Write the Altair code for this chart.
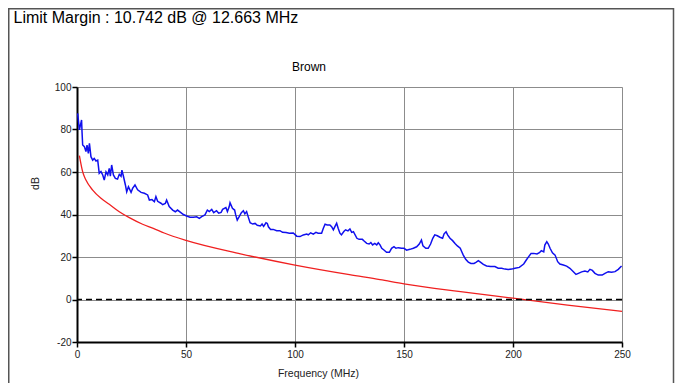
import altair as alt
import pandas as pd

# ---- data ----
blue_freq = [0.3, 1.1, 2.1, 2.3, 2.6, 3.4, 4.1, 4.6, 5.2, 5.7, 6.4, 7.2, 7.9, 8.7, 9.5,
             10.2, 11.0, 11.8, 12.5, 13.3, 14.1, 14.8, 15.3, 15.9, 16.7, 17.6, 18.6, 19.4,
             20.2, 20.6, 21.3, 22.2, 22.8, 23.6, 24.8, 25.5, 26.6, 27.8, 29.4, 30.9, 32.4,
             33.2, 34.4, 35.5, 36.2, 37.0, 38.5, 39.3, 40.5, 41.1, 42.3, 43.9, 45.1, 46.1,
             47.5, 48.8, 50.3, 51.8, 53.4, 54.9, 56.1, 57.2, 58.7, 59.8, 60.7, 61.8, 62.7,
             64.0, 65.0, 66.1, 66.8, 68.3, 69.0, 69.8, 70.2, 71.3, 72.3, 72.8, 73.5, 74.4,
             75.4, 76.3, 77.0, 77.8, 78.5, 79.4, 80.6, 81.7, 82.7, 84.1, 84.9, 85.6, 86.7,
             87.3, 87.8, 88.8, 90.0, 91.6, 93.1, 94.3, 95.9, 97.4, 99.2, 100.8, 102.3,
             103.8, 105.4, 106.1, 107.2, 108.4, 109.6, 110.6, 112.2, 113.0, 113.8, 114.8,
             116.0, 116.8, 117.6, 118.3, 119.1, 119.8, 120.6, 121.3, 122.4, 123.2, 124.3,
             125.2, 126.0, 126.8, 128.4, 129.4, 130.9, 131.7, 132.9, 134.0, 134.8, 135.6,
             136.6, 137.5, 138.2, 139.0, 139.8, 140.8, 142.0, 143.3, 144.3, 145.4, 146.3,
             147.4, 148.9, 150.0, 151.2, 152.7, 154.3, 155.8, 157.0, 158.0, 158.7, 160.0,
             161.1, 162.2, 163.2, 164.1, 165.3, 166.5, 167.7, 168.4, 169.3, 170.0, 171.1,
             172.3, 173.4, 174.5, 175.8, 176.5, 177.2, 178.3, 179.5, 180.7, 182.1, 183.0,
             184.1, 185.2, 186.4, 187.9, 189.7, 191.7, 193.2, 194.8, 196.3, 197.8, 199.4,
             200.9, 202.9, 204.9, 206.1, 207.2, 208.3, 209.5, 211.0, 212.1, 213.0, 214.1,
             214.6, 215.5, 216.2, 217.0, 218.1, 219.3, 220.5, 221.5, 223.1, 224.6, 226.1,
             227.7, 228.9, 230.0, 231.5, 233.0, 234.3, 235.3, 236.4, 237.6, 239.1, 240.9,
             242.2, 243.7, 245.2, 246.8, 248.3, 249.8]
blue_db = [87.6, 79.8, 84.5, 79.0, 72.7, 71.9, 69.6, 72.7, 68.8, 73.5, 67.2, 65.6, 66.4, 65.2, 65.6,
           59.4, 60.2, 58.6, 56.2, 60.1, 58.6, 61.7, 58.0, 63.3, 58.6, 57.0, 56.7, 58.9,
           58.0, 60.9, 58.0, 53.9, 50.7, 53.1, 50.4, 52.3, 53.9, 51.6, 50.4, 50.0, 49.2,
           46.8, 47.0, 46.0, 48.4, 46.2, 45.3, 44.6, 45.2, 46.8, 43.7, 42.1, 41.3, 42.1,
           41.0, 40.0, 39.3, 38.7, 38.7, 38.9, 38.2, 39.0, 39.8, 42.1, 41.4, 42.4, 40.9,
           41.8, 40.6, 41.0, 42.4, 43.3, 41.4, 43.6, 45.5, 42.9, 42.1, 39.8, 37.4, 39.0,
           40.9, 41.8, 40.3, 41.4, 39.0, 36.1, 35.5, 35.8, 34.9, 34.6, 35.5, 34.4, 36.1,
           35.8, 34.2, 33.0, 33.0, 32.4, 32.4, 31.6, 31.5, 31.2, 31.3, 29.8, 29.6,
           30.4, 30.8, 30.4, 31.4, 30.8, 31.6, 31.2, 31.2, 33.5, 35.4, 35.1,
           35.1, 34.3, 32.8, 34.3, 35.9, 33.5, 31.2, 30.4, 32.0, 32.8, 32.3,
           33.2, 31.6, 31.9, 28.8, 28.3, 28.3, 27.5, 26.4, 26.1, 26.8, 25.7,
           26.4, 25.7, 26.7, 25.7, 24.1, 23.3, 22.2, 22.2, 24.1, 24.9, 24.1,
           24.4, 24.1, 24.1, 23.2, 23.6, 24.1, 24.8, 26.1, 28.0, 25.2, 24.1,
           24.1, 26.1, 28.8, 30.4, 30.0, 29.3, 28.8, 30.9, 31.9, 30.4, 28.8,
           27.7, 26.4, 25.2, 24.1, 22.5, 20.9, 18.9, 17.6, 17.0, 17.0, 17.5,
           18.3, 17.5, 16.5, 15.8, 15.5, 15.5, 14.7, 14.7, 14.3, 14.1, 14.3,
           14.7, 15.1, 16.7, 18.6, 20.2, 21.7, 21.7, 21.4, 22.0, 23.0, 22.4,
           25.6, 27.2, 26.1, 24.1, 22.0, 20.9, 17.8, 16.7, 16.2, 15.7, 14.7,
           13.1, 11.8, 12.3, 13.0, 13.4, 13.0, 14.2, 13.7, 12.3, 11.5, 11.5,
           12.3, 13.1, 12.8, 13.1, 14.2, 15.8]

red_freq = [1.1, 2.6, 4.1, 7.2, 11.0, 14.8, 19.4, 24.0, 30.1, 35.0, 40.0, 50.0, 75.0,
            100.0, 125.0, 139.0, 150.0, 175.0, 200.0, 225.0, 250.0]
red_db = [67.7, 60.1, 56.2, 51.5, 47.6, 44.8, 41.3, 38.5, 35.4, 33.5, 31.3, 27.8, 21.5,
          16.2, 11.7, 9.4, 7.4, 3.8, 0.6, -2.6, -5.6]

x_ticks = [0, 50, 100, 150, 200, 250]
y_ticks = [-20, 0, 20, 40, 60, 80, 100]

main_title = "Limit Margin : 10.742 dB @ 12.663 MHz"
sub_title = "Brown"
x_title = "Frequency (MHz)"
y_title = "dB"

# ---- chart ----
W, H = 545, 255
FONT = "Liberation Sans"

blue_df = pd.DataFrame({"f": blue_freq, "db": blue_db})
red_df = pd.DataFrame({"f": red_freq, "db": red_db})

xscale = alt.Scale(domain=[0, 250], nice=False, zero=False)
yscale = alt.Scale(domain=[-20, 100], nice=False, zero=False)

xaxis = alt.Axis(values=x_ticks, title=x_title, grid=True, gridColor="#8c8c8c", gridWidth=1,
                 domainColor="#000000", domainWidth=2, tickColor="#000000", tickSize=5,
                 tickWidth=1.5, labelFont=FONT, labelFontSize=10, labelColor="#222222",
                 labelPadding=2, titleFont=FONT, titleFontSize=10.5, titleFontWeight="normal",
                 titleColor="#222222", titleX=241, titleY=31, titleBaseline="middle",
                 titleAnchor="middle", labelFlush=False, labelExpr="'' + datum.value")
yaxis = alt.Axis(values=y_ticks, title=y_title, grid=True, gridColor="#8c8c8c", gridWidth=1,
                 domainColor="#000000", domainWidth=2, tickColor="#000000", tickSize=5,
                 tickWidth=1.5, labelFont=FONT, labelFontSize=10, labelColor="#222222",
                 labelPadding=1, titleFont=FONT, titleFontSize=10.5, titleFontWeight="normal",
                 titleColor="#222222", titleX=-42, titleY=96, titleBaseline="middle",
                 titleAngle=-90, titleAlign="center", labelFlush=False,
                 labelExpr="'' + datum.value")

base_blue = alt.Chart(blue_df).mark_line(color="#1010ee", strokeWidth=1.5).encode(
    x=alt.X("f:Q", scale=xscale, axis=xaxis),
    y=alt.Y("db:Q", scale=yscale, axis=yaxis),
)

red = alt.Chart(red_df).mark_line(color="#f02020", strokeWidth=1.3, interpolate="monotone").encode(
    x=alt.X("f:Q", scale=xscale),
    y=alt.Y("db:Q", scale=yscale),
)

zero = alt.Chart(pd.DataFrame({"z": [0]})).mark_rule(
    color="#000000", strokeWidth=1.5, strokeDash=[6, 4]
).encode(y=alt.Y("z:Q", scale=yscale))

border = alt.Chart(pd.DataFrame({"a": [0]})).mark_rect(
    filled=False, stroke="#555555", strokeWidth=1.5
).encode(
    x=alt.value(-68.25), x2=alt.value(596.5), y=alt.value(-78.25), y2=alt.value(320)
)

title_txt = alt.Chart(pd.DataFrame({"t": [main_title]})).mark_text(
    align="left", baseline="alphabetic", font=FONT, fontSize=16, color="#000000"
).encode(text="t:N", x=alt.value(-63.5), y=alt.value(-64.3))

sub_txt = alt.Chart(pd.DataFrame({"t": [sub_title]})).mark_text(
    align="center", baseline="middle", font=FONT, fontSize=12, color="#000000"
).encode(text="t:N", x=alt.value(232), y=alt.value(-20))

chart = alt.layer(border, base_blue, red, zero, title_txt, sub_txt).properties(
    width=W, height=H,
    autosize=alt.AutoSizeParams(type="none"),
    padding={"left": 69, "top": 79, "right": 53, "bottom": 42},
).configure_view(stroke=None).configure(background="#ffffff")

chart.save("out.html", embed_options={"renderer": "svg", "actions": False})
